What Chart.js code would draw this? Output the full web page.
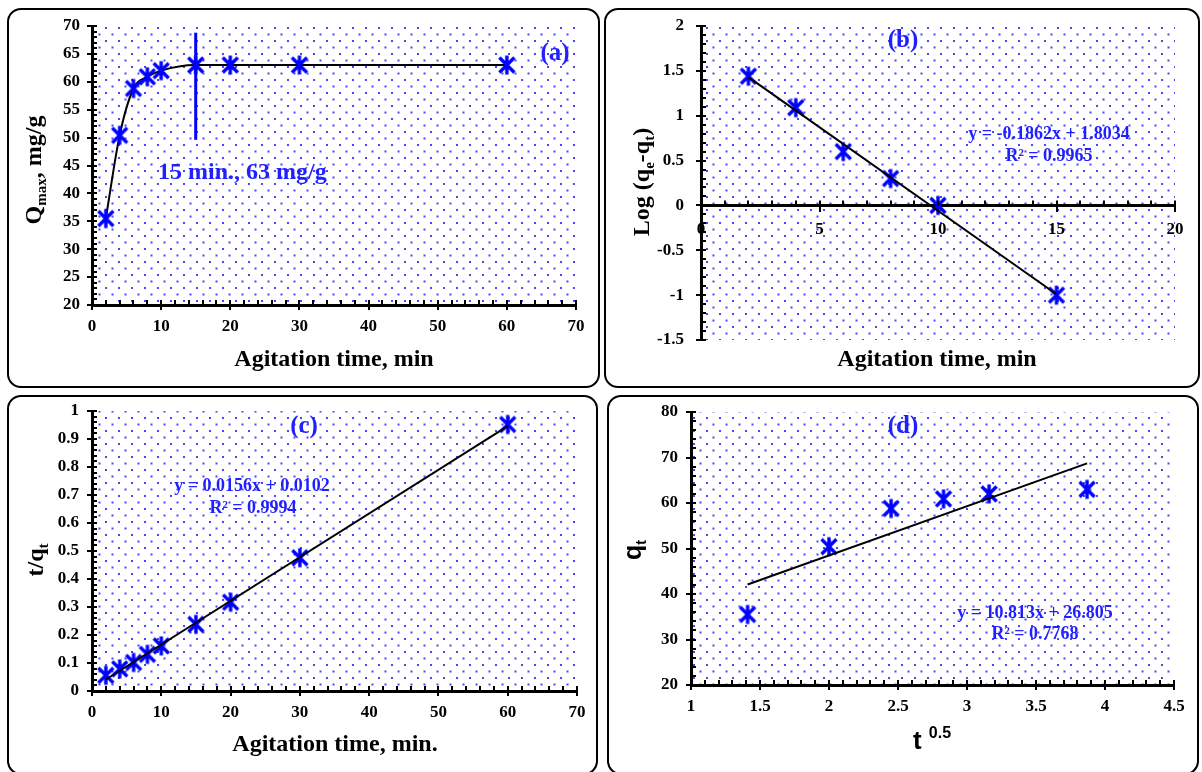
<!DOCTYPE html>
<html>
<head>
<meta charset="utf-8">
<script src="https://cdn.jsdelivr.net/npm/chart.js@4.4.1/dist/chart.umd.min.js"></script>
<style>
html, body { margin: 0; padding: 0; background: #fff; }
body { width: 1202px; height: 772px; position: relative; overflow: hidden; }
.box { position: absolute; border: 2px solid #000; border-radius: 14px; box-sizing: border-box; }
canvas { position: absolute; }
</style>
</head>
<body>
<div class="box" style="left:7px;top:8px;width:593px;height:380px"></div>
<div class="box" style="left:604px;top:8px;width:596px;height:380px"></div>
<div class="box" style="left:7px;top:395px;width:591px;height:380px"></div>
<div class="box" style="left:607px;top:395px;width:592px;height:380px"></div>
<canvas id="chartA" width="601" height="390" style="left:0;top:0"></canvas>
<canvas id="chartB" width="601" height="390" style="left:601px;top:0"></canvas>
<canvas id="chartC" width="601" height="382" style="left:0;top:390px"></canvas>
<canvas id="chartD" width="601" height="382" style="left:601px;top:390px"></canvas>
<script>
// (a) uptake vs agitation time
const timeMin = [2, 4, 6, 8, 10, 15, 20, 30, 60];
const qtMgG = [35.5, 50.4, 58.8, 60.9, 62, 63, 63, 63, 63];
const eqMarkX = [15, 15];
const eqMarkY = [49.6, 68.8];

// (b) pseudo-first-order
const timeB = [2, 4, 6, 8, 10, 15];
const logQeQt = [1.44, 1.09, 0.6, 0.3, 0.0, -1.0];
const fitBX = [2, 15];
const fitBY = [1.43, -0.99];

// (c) pseudo-second-order
const tOverQt = [0.056, 0.079, 0.102, 0.131, 0.161, 0.238, 0.317, 0.476, 0.952];
const fitCX = [2, 60];
const fitCY = [0.041, 0.946];

// (d) intraparticle diffusion
const sqrtT = [1.41, 2, 2.45, 2.83, 3.16, 3.87];
const qtD = [35.5, 50.4, 58.8, 60.9, 62, 63];
const fitDX = [1.41, 3.87];
const fitDY = [42.1, 68.7];

// tick labels
const ticksTime = [0, 10, 20, 30, 40, 50, 60, 70];
const ticksQ = [20, 25, 30, 35, 40, 45, 50, 55, 60, 65, 70];
const ticksTimeB = [0, 5, 10, 15, 20];
const ticksLog = [-1.5, -1, -0.5, 0, 0.5, 1, 1.5, 2];
const ticksTQ = [0, 0.1, 0.2, 0.3, 0.4, 0.5, 0.6, 0.7, 0.8, 0.9, 1];
const ticksSqrtT = [1, 1.5, 2, 2.5, 3, 3.5, 4, 4.5];
const ticksQD = [20, 30, 40, 50, 60, 70, 80];

const blue = '#0000ff';
const textBlue = '#1f1fff';
const serif = 'Liberation Serif';
const sans = 'Liberation Sans';
const tickFont = { family: serif, size: 17, weight: 'bold' };

const pts = (xs, ys) => xs.map((x, i) => ({ x: x, y: ys[i] }));

// X with a vertical bar, like the Excel star marker
function starMarker() {
  const c = document.createElement('canvas');
  c.width = 22; c.height = 22;
  const g = c.getContext('2d');
  g.strokeStyle = blue;
  g.lineWidth = 3.4;
  g.beginPath();
  g.moveTo(3.5, 3.5); g.lineTo(18.5, 18.5);
  g.moveTo(18.5, 3.5); g.lineTo(3.5, 18.5);
  g.moveTo(11, 1.5); g.lineTo(11, 20.5);
  g.stroke();
  return c;
}
const star = starMarker();

// dotted plot background
const dotTile = (() => {
  const t = document.createElement('canvas');
  t.width = 13; t.height = 13;
  const g = t.getContext('2d');
  g.fillStyle = '#4646ff';
  g.fillRect(1, 1, 2, 2);
  g.fillRect(7.5, 7.5, 2, 2);
  return t;
})();
const dotFill = {
  id: 'dotFill',
  beforeDraw(chart) {
    const { ctx, chartArea: a } = chart;
    ctx.save();
    ctx.fillStyle = ctx.createPattern(dotTile, 'repeat');
    ctx.fillRect(a.left, a.top, a.width, a.height);
    ctx.restore();
  }
};

function minorTicks(xStep, yStep, xAt) {
  return {
    id: 'minorTicks',
    afterDraw(chart) {
      const { ctx, chartArea: a, scales: { x, y } } = chart;
      const y0 = xAt === undefined ? a.bottom : y.getPixelForValue(xAt);
      ctx.save();
      ctx.strokeStyle = '#000';
      ctx.lineWidth = 2;
      ctx.beginPath();
      for (let i = 0; x.min + i * xStep <= x.max + 1e-9; i++) {
        const p = Math.round(x.getPixelForValue(x.min + i * xStep));
        ctx.moveTo(p, y0); ctx.lineTo(p, y0 - 5);
      }
      for (let i = 0; y.min + i * yStep <= y.max + 1e-9; i++) {
        const p = Math.round(y.getPixelForValue(y.min + i * yStep));
        ctx.moveTo(a.left, p); ctx.lineTo(a.left + 5, p);
      }
      ctx.stroke();
      ctx.restore();
    }
  };
}

function drawRich(ctx, it) {
  ctx.save();
  ctx.translate(it.x, it.y);
  if (it.rotate) ctx.rotate(-Math.PI / 2);
  ctx.fillStyle = it.color || '#000';
  ctx.textBaseline = 'alphabetic';
  const runs = it.runs.map(r => {
    const f = 'bold ' + (r.size || it.size) + 'px "' + (r.family || it.family || serif) + '"';
    ctx.font = f;
    return { t: r.t, dy: r.dy || 0, f: f, w: ctx.measureText(r.t).width };
  });
  const total = runs.reduce((s, r) => s + r.w, 0);
  let cx = it.align === 'left' ? 0 : -total / 2;
  const base = it.size * 0.35;
  runs.forEach(r => {
    ctx.font = r.f;
    ctx.fillText(r.t, cx, base + r.dy);
    cx += r.w;
  });
  ctx.restore();
}

function textLayer(items) {
  return {
    id: 'textLayer',
    afterDraw(chart) { items.forEach(it => drawRich(chart.ctx, it)); }
  };
}

function axis(min, max, tickVals, extra, pad) {
  return Object.assign({
    type: 'linear',
    min: min,
    max: max,
    afterBuildTicks: s => { s.ticks = tickVals.map(v => ({ value: v })); },
    grid: { drawOnChartArea: false, drawTicks: true, tickLength: 5, color: '#000', lineWidth: 2 },
    border: { display: true, color: '#000', width: 3 },
    ticks: { color: '#000', font: tickFont, padding: pad || 6, callback: v => String(v) }
  }, extra);
}

function baseOptions(padding, scales) {
  return {
    responsive: false,
    animation: false,
    events: [],
    layout: { padding: padding },
    plugins: { legend: { display: false }, tooltip: { enabled: false } },
    scales: scales
  };
}

// (a)
new Chart(document.getElementById('chartA'), {
  type: 'scatter',
  data: {
    datasets: [
      { data: pts(eqMarkX, eqMarkY), showLine: true, borderColor: blue, borderWidth: 3, pointRadius: 0 },
      { data: pts(timeMin, qtMgG), showLine: true, borderColor: '#000', borderWidth: 2,
        cubicInterpolationMode: 'monotone', pointStyle: star, pointRadius: 9 }
    ]
  },
  options: baseOptions({ left: 0, top: 26, right: 25, bottom: 55 }, {
    x: axis(0, 70, ticksTime, { afterFit: s => { s.height = 30; } }),
    y: axis(20, 70, ticksQ, { afterFit: s => { s.width = 92; } }, 7)
  }),
  plugins: [dotFill, minorTicks(2, 1), textLayer([
    { x: 33, y: 170, rotate: true, size: 24, runs: [{ t: 'Q' }, { t: 'max', size: 15, dy: 5 }, { t: ', mg/g' }] },
    { x: 334, y: 358, size: 24, runs: [{ t: 'Agitation time, min' }] },
    { x: 158, y: 171, size: 24, align: 'left', color: textBlue, runs: [{ t: '15 min., 63 mg/g' }] },
    { x: 555, y: 51, size: 25, color: textBlue, runs: [{ t: '(a)' }] }
  ])]
});

// (b)
new Chart(document.getElementById('chartB'), {
  type: 'scatter',
  data: {
    datasets: [
      { data: pts(fitBX, fitBY), showLine: true, borderColor: '#000', borderWidth: 2, pointRadius: 0 },
      { data: pts(timeB, logQeQt), pointStyle: star, pointRadius: 9 }
    ]
  },
  options: baseOptions({ left: 0, top: 26, right: 27, bottom: 50 }, {
    x: axis(0, 20, ticksTimeB, { position: { y: 0 } }, 9),
    y: axis(-1.5, 2, ticksLog, { afterFit: s => { s.width = 100; } }, 12)
  }),
  plugins: [dotFill, minorTicks(1, 0.1, 0), textLayer([
    { x: 40, y: 182, rotate: true, size: 24, runs: [{ t: 'Log (q' }, { t: 'e', size: 15, dy: 5 }, { t: '-q' }, { t: 't', size: 15, dy: 5 }, { t: ')' }] },
    { x: 336, y: 358, size: 24, runs: [{ t: 'Agitation time, min' }] },
    { x: 302, y: 38, size: 25, color: textBlue, runs: [{ t: '(b)' }] },
    { x: 448, y: 133, size: 18, color: textBlue, runs: [{ t: 'y = -0.1862x + 1.8034' }] },
    { x: 448, y: 155, size: 18, color: textBlue, runs: [{ t: 'R² = 0.9965' }] }
  ])]
});

// (c)
new Chart(document.getElementById('chartC'), {
  type: 'scatter',
  data: {
    datasets: [
      { data: pts(fitCX, fitCY), showLine: true, borderColor: '#000', borderWidth: 2, pointRadius: 0 },
      { data: pts(timeMin, tOverQt), pointStyle: star, pointRadius: 9 }
    ]
  },
  options: baseOptions({ left: 0, top: 21, right: 24, bottom: 51 }, {
    x: axis(0, 70, ticksTime, { afterFit: s => { s.height = 30; } }),
    y: axis(0, 1, ticksTQ, { afterFit: s => { s.width = 92; } }, 8)
  }),
  plugins: [dotFill, minorTicks(2, 0.02), textLayer([
    { x: 35, y: 170, rotate: true, size: 24, runs: [{ t: 't/q' }, { t: 't', size: 15, dy: 5 }] },
    { x: 335, y: 353, size: 24, runs: [{ t: 'Agitation time, min.' }] },
    { x: 304, y: 34, size: 25, color: textBlue, runs: [{ t: '(c)' }] },
    { x: 252, y: 95, size: 18, color: textBlue, runs: [{ t: 'y = 0.0156x + 0.0102' }] },
    { x: 253, y: 117, size: 18, color: textBlue, runs: [{ t: 'R² = 0.9994' }] }
  ])]
});

// (d)
new Chart(document.getElementById('chartD'), {
  type: 'scatter',
  data: {
    datasets: [
      { data: pts(fitDX, fitDY), showLine: true, borderColor: '#000', borderWidth: 2, pointRadius: 0 },
      { data: pts(sqrtT, qtD), pointStyle: star, pointRadius: 9 }
    ]
  },
  options: baseOptions({ left: 0, top: 22, right: 28, bottom: 57 }, {
    x: axis(1, 4.5, ticksSqrtT, { afterFit: s => { s.height = 30; } }),
    y: axis(20, 80, ticksQD, { afterFit: s => { s.width = 90; } }, 8)
  }),
  plugins: [dotFill, minorTicks(0.1, 2), textLayer([
    { x: 31, y: 160, rotate: true, size: 25, family: sans, runs: [{ t: 'q' }, { t: 't', size: 14, dy: 5 }] },
    { x: 331, y: 350, size: 26, family: sans, runs: [{ t: 't ' }, { t: '0.5', size: 16, dy: -11 }] },
    { x: 302, y: 34, size: 25, color: textBlue, runs: [{ t: '(d)' }] },
    { x: 434, y: 222, size: 18, color: textBlue, runs: [{ t: 'y = 10.813x + 26.805' }] },
    { x: 434, y: 243, size: 18, color: textBlue, runs: [{ t: 'R² = 0.7768' }] }
  ])]
});
</script>
</body>
</html>
